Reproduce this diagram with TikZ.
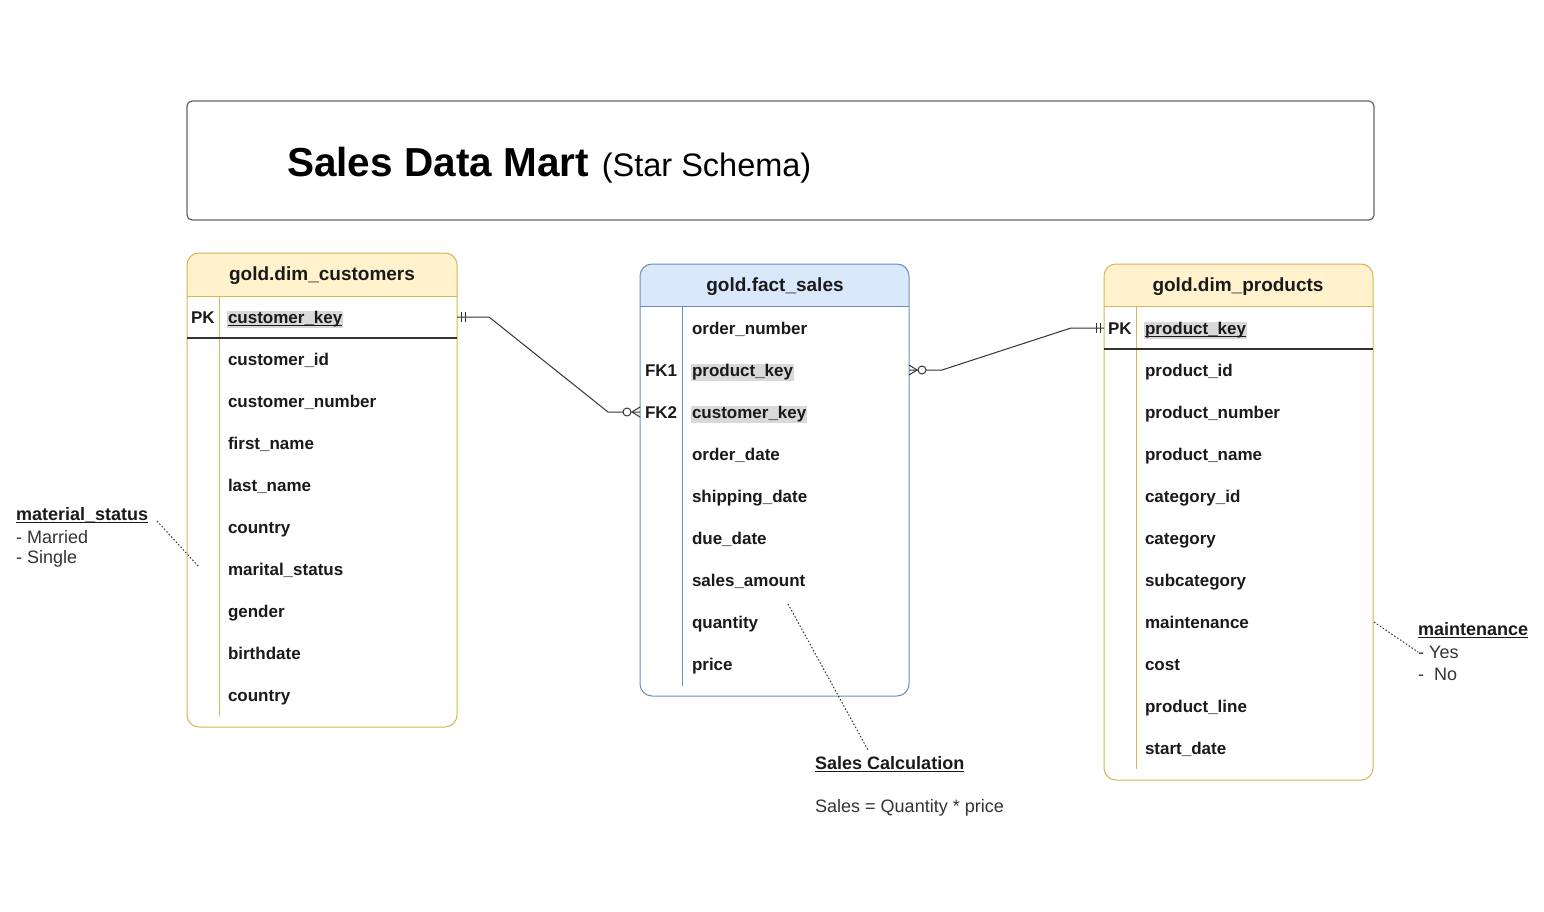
\documentclass[tikz,border=0pt]{standalone}
\usepackage{fontspec}
\setmainfont{Liberation Sans}
\usetikzlibrary{calc}
\definecolor{yfill}{HTML}{FFF2CC}
\definecolor{ybord}{HTML}{D6B656}
\definecolor{bfill}{HTML}{DAE8FC}
\definecolor{bbord}{HTML}{6C8EBF}
\definecolor{tgray}{HTML}{666666}
\definecolor{lgray}{HTML}{333333}
\definecolor{hl}{HTML}{D9D9D9}
\definecolor{txt}{HTML}{1A1A1A}
\definecolor{ntxt}{HTML}{333333}
\newcommand{\myfs}[1]{\fontsize{#1}{#1}\selectfont}
\newcommand{\ulk}[1]{\setbox0\hbox{#1}\rlap{\rule[-2.6pt]{\wd0}{1.2pt}}\box0}
\tikzset{
  fld/.style={anchor=west, inner sep=0pt, outer sep=0pt, text=txt, font=\bfseries\myfs{17}, text height=12.5pt, text depth=3.5pt, yshift=-2pt},
  keyfld/.style={fld, fill=hl, inner xsep=1pt, inner ysep=0.5pt},
  hdr/.style={inner sep=0pt, text=txt, font=\bfseries\myfs{19}, yshift=-2pt},
  tbl/.style={draw=#1, line width=1pt, rounded corners=12pt, anchor=north west, inner sep=0pt, outer sep=0pt},
  conn/.style={draw=lgray, line width=1pt},
  note/.style={draw=lgray, line width=1pt, dash pattern=on 1.5pt off 2pt},
  ntitle/.style={anchor=west, inner sep=0pt, text=txt, font=\bfseries\myfs{18}, yshift=-2pt},
  nitem/.style={anchor=west, inner sep=0pt, text=ntxt, font=\myfs{18}, yshift=-2pt},
}
\begin{document}
\begin{tikzpicture}[x=1pt,y=-1pt]
\useasboundingbox (0,0) rectangle (1544,912);
\fill[white] (0,0) rectangle (1544,912);

% ---------- title ----------
\node[draw=tgray, line width=1.2pt, rounded corners=5pt, minimum width=1187pt, minimum height=119pt, anchor=north west, inner sep=0pt, outer sep=0pt] (tbox) at (187,101) {};
\node[anchor=base west, inner sep=0pt, text=black] (ttl) at (287,177) {{\bfseries\myfs{40.5}Sales Data Mart}\hspace{13pt}{\myfs{32.5}(Star Schema)}};

% ---------- gold.dim_customers ----------
\begin{scope}
  \clip[rounded corners=12pt] (187,253) rectangle (457,727);
  \fill[yfill] (187,253) rectangle (457,296);
\end{scope}
\node[tbl=ybord, minimum width=270pt, minimum height=474pt] (cust) at (187,253) {};
\draw[ybord, line width=1pt] (187,296) -- (457,296);
\draw[ybord, line width=1pt] (219,296) -- (219,716);
\draw[lgray, line width=1.5pt] (187,338) -- (457,338);
\node[hdr] (custh) at (322,274) {gold.dim\_customers};
\node[fld] (cpk) at (191,317) {PK};
\node[keyfld] (ck) at (227,317) {\ulk{customer\_key}};
\node[fld] (c2) at (228,359) {customer\_id};
\node[fld] (c3) at (228,401) {customer\_number};
\node[fld] (c4) at (228,443) {first\_name};
\node[fld] (c5) at (228,485) {last\_name};
\node[fld] (c6) at (228,527) {country};
\node[fld] (c7) at (228,569) {marital\_status};
\node[fld] (c8) at (228,611) {gender};
\node[fld] (c9) at (228,653) {birthdate};
\node[fld] (c10) at (228,695) {country};

% ---------- gold.fact_sales ----------
\begin{scope}
  \clip[rounded corners=12pt] (640,264) rectangle (909,696);
  \fill[bfill] (640,264) rectangle (909,306);
\end{scope}
\node[tbl=bbord, minimum width=269pt, minimum height=432pt] (fact) at (640,264) {};
\draw[bbord, line width=1pt] (640,306) -- (909,306);
\draw[bbord, line width=1pt] (682,306) -- (682,686);
\node[hdr] (facth) at (775,285) {gold.fact\_sales};
\node[fld] (f1) at (692,328) {order\_number};
\node[fld] (fk1) at (645,370) {FK1};
\node[keyfld] (fpk) at (691,370) {product\_key};
\node[fld] (fk2) at (645,412) {FK2};
\node[keyfld] (fck) at (691,412) {customer\_key};
\node[fld] (f4) at (692,454) {order\_date};
\node[fld] (f5) at (692,496) {shipping\_date};
\node[fld] (f6) at (692,538) {due\_date};
\node[fld] (f7) at (692,580) {sales\_amount};
\node[fld] (f8) at (692,622) {quantity};
\node[fld] (f9) at (692,664) {price};

% ---------- gold.dim_products ----------
\begin{scope}
  \clip[rounded corners=12pt] (1104,264) rectangle (1373,780);
  \fill[yfill] (1104,264) rectangle (1373,306);
\end{scope}
\node[tbl=ybord, minimum width=269pt, minimum height=516pt] (prod) at (1104,264) {};
\draw[ybord, line width=1pt] (1104,306) -- (1373,306);
\draw[ybord, line width=1pt] (1136,306) -- (1136,769);
\draw[lgray, line width=1.5pt] (1104,349) -- (1373,349);
\node[hdr] (prodh) at (1238,285) {gold.dim\_products};
\node[fld] (ppkl) at (1108,328) {PK};
\node[keyfld] (ppk) at (1144,328) {\ulk{product\_key}};
\node[fld] (p2) at (1145,370) {product\_id};
\node[fld] (p3) at (1145,412) {product\_number};
\node[fld] (p4) at (1145,454) {product\_name};
\node[fld] (p5) at (1145,496) {category\_id};
\node[fld] (p6) at (1145,538) {category};
\node[fld] (p7) at (1145,580) {subcategory};
\node[fld] (p8) at (1145,622) {maintenance};
\node[fld] (p9) at (1145,664) {cost};
\node[fld] (p10) at (1145,706) {product\_line};
\node[fld] (p11) at (1145,748) {start\_date};

% ---------- relationships ----------
\coordinate (a1) at (cust.east |- 0,317);
\coordinate (a2) at (fact.west |- 0,412);
\draw[conn] (a1) -- ++(32,0) -- ($(a2)+(-32,0)$) -- (a2);
\draw[conn] ($(a1)+(4,-5)$) -- ++(0,10) ($(a1)+(8,-5)$) -- ++(0,10);
\draw[conn] ($(a2)+(-8,0)$) -- ($(a2)+(0,-5)$) ($(a2)+(-8,0)$) -- ($(a2)+(0,5)$);
\draw[conn, fill=white] ($(a2)+(-13,0)$) circle (4pt);

\coordinate (b1) at (fact.east |- 0,370);
\coordinate (b2) at (prod.west |- 0,328);
\draw[conn] (b1) -- ++(33,0) -- ($(b2)+(-33,0)$) -- (b2);
\draw[conn] ($(b2)+(-4,-5)$) -- ++(0,10) ($(b2)+(-8,-5)$) -- ++(0,10);
\draw[conn] ($(b1)+(8,0)$) -- ($(b1)+(0,-5)$) ($(b1)+(8,0)$) -- ($(b1)+(0,5)$);
\draw[conn, fill=white] ($(b1)+(13,0)$) circle (4pt);

% ---------- notes ----------
\node[ntitle] (ms) at (16,513) {\ulk{material\_status}};
\node[nitem] (ms1) at (16,535) {- Married};
\node[nitem] (ms2) at (16,557) {- Single};
\coordinate (msstart) at (157,521);
\coordinate (msend) at (199,567);
\draw[note] (msstart) -- (msend);

\node[ntitle] (mt) at (1418,628) {\ulk{maintenance}};
\node[nitem] (mt1) at (1418,650) {- Yes};
\node[nitem] (mt2) at (1418,672) {-\ \ No};
\coordinate (mtstart) at (1374,622);
\draw[note] (mtstart) -- (mt1.west);

\node[ntitle] (sc) at (815,762) {\ulk{Sales Calculation}};
\node[nitem] (sc1) at (815,806) {Sales = Quantity * price};
\coordinate (scstart) at (788,604);
\coordinate (scend) at (868,750);
\draw[note] (scstart) -- (scend);
\end{tikzpicture}
\end{document}
